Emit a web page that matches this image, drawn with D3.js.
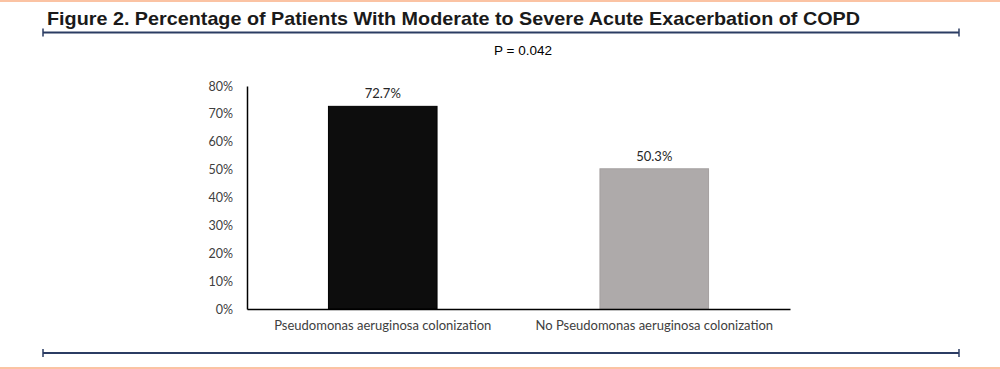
<!DOCTYPE html>
<html>
<head>
<meta charset="utf-8">
<script src="https://cdn.jsdelivr.net/npm/d3@7"></script>
<style>
  html, body { margin: 0; padding: 0; background: #fff; }
  svg { display: block; }
</style>
</head>
<body>
<svg id="chart" width="1000" height="369"></svg>
<script>
const categories = ["Pseudomonas aeruginosa colonization", "No Pseudomonas aeruginosa colonization"];
const values = [72.7, 50.3];
const valueLabels = ["72.7%", "50.3%"];
const barColors = ["#0d0d0d", "#aeaaaa"];
const barStrokes = ["#000000", "#a5a0a0"];
const yTicks = [0, 10, 20, 30, 40, 50, 60, 70, 80];
const titleText = "Figure 2. Percentage of Patients With Moderate to Severe Acute Exacerbation of COPD";
const pText = "P = 0.042";

const svg = d3.select("#chart");
const navy = "#2b3c63";
const peach = "#fbc3a3";

// peach border lines
svg.append("rect").attr("x", 0).attr("y", 0).attr("width", 1000).attr("height", 2).attr("fill", peach);
svg.append("rect").attr("x", 0).attr("y", 367).attr("width", 1000).attr("height", 2).attr("fill", peach);

// title
svg.append("text")
  .attr("x", 47).attr("y", 25)
  .attr("font-family", "Liberation Sans, Arial, sans-serif")
  .attr("font-weight", "bold")
  .attr("font-size", 19)
  .attr("fill", "#1a1a1a")
  .attr("textLength", 813)
  .attr("lengthAdjust", "spacingAndGlyphs")
  .text(titleText);

// rules with end caps
function rule(y) {
  const g = svg.append("g");
  g.append("line").attr("x1", 43).attr("x2", 959).attr("y1", y).attr("y2", y)
    .attr("stroke", navy).attr("stroke-width", 2);
  [43, 959].forEach(x => {
    g.append("line").attr("x1", x).attr("x2", x).attr("y1", y - 4).attr("y2", y + 4)
      .attr("stroke", navy).attr("stroke-width", 1.5);
  });
}
rule(32.5);
rule(353);

// P value
svg.append("text")
  .attr("x", 523).attr("y", 55)
  .attr("text-anchor", "middle")
  .attr("font-family", "Liberation Sans, Arial, sans-serif")
  .attr("font-size", 13.5)
  .attr("fill", "#000")
  .text(pText);

// scales
const x = d3.scaleBand().domain(categories).range([247, 790]).paddingInner(0.6).paddingOuter(0.3);
const y = d3.scaleLinear().domain([0, 80]).range([309, 86]);

const font = "Lato, 'Open Sans', sans-serif";

// bars
svg.selectAll("rect.bar").data(categories).enter().append("rect")
  .attr("class", "bar")
  .attr("x", d => x(d))
  .attr("width", x.bandwidth())
  .attr("y", (d, i) => y(values[i]))
  .attr("height", (d, i) => y(0) - y(values[i]))
  .attr("fill", (d, i) => barColors[i])
  .attr("stroke", (d, i) => barStrokes[i])
  .attr("stroke-width", 1);

// value labels
svg.selectAll("text.val").data(categories).enter().append("text")
  .attr("class", "val")
  .attr("x", d => x(d) + x.bandwidth() / 2)
  .attr("y", (d, i) => y(values[i]) - 8)
  .attr("text-anchor", "middle")
  .attr("font-family", font)
  .attr("font-size", 13)
  .attr("fill", "#262626")
  .text((d, i) => valueLabels[i]);

// y axis
const yAxis = d3.axisLeft(y).tickValues(yTicks).tickSize(0).tickPadding(14).tickFormat(d => d + "%");
const gy = svg.append("g").attr("transform", "translate(247,0)").call(yAxis);
gy.select(".domain").attr("stroke", "#000").attr("stroke-width", 1.5);
gy.selectAll("text").attr("font-family", font).attr("font-size", 12.5).attr("fill", "#404040");

// x axis
const xAxis = d3.axisBottom(x).tickSize(0).tickPadding(12);
const gx = svg.append("g").attr("transform", "translate(0,309)").call(xAxis);
gx.select(".domain").attr("stroke", "#000").attr("stroke-width", 1.5);
gx.selectAll("text").attr("font-family", font).attr("font-size", 13).attr("fill", "#404040");
</script>
</body>
</html>
